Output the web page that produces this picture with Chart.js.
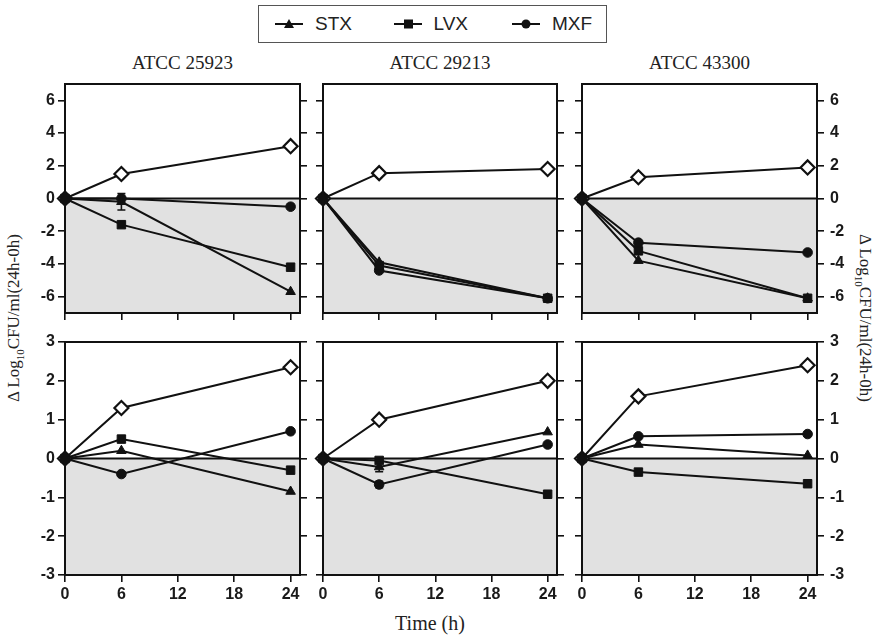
<!DOCTYPE html>
<html>
<head>
<meta charset="utf-8">
<script src="https://cdn.jsdelivr.net/npm/chart.js@4.4.1/dist/chart.umd.min.js"></script>
<style>
  body { margin: 0; background: #fff; }
  #page { position: relative; width: 877px; height: 637px; overflow: hidden; background: #fff; }
  #page canvas { position: absolute; }
  .title { position: absolute; font-family: "Liberation Serif", "Times New Roman", serif; color: #222; white-space: nowrap; transform: translate(-50%, -50%); }
  .ylab { position: absolute; font-family: "Liberation Serif", "Times New Roman", serif; font-size: 17px; color: #222; white-space: nowrap; }
  #legend { position: absolute; left: 258px; top: 5px; width: 347px; height: 36px; border: 1.5px solid #555; }
  .item { position: absolute; top: 0; height: 36px; display: flex; align-items: center; font-family: "Liberation Sans", Arial, sans-serif; font-size: 19px; color: #222; }
  .item svg { margin-right: 11px; }
</style>
</head>
<body>
<div id="page">
  <div id="legend"></div>
  <div class="title" style="left:430px; top:623px; font-size:20px;">Time (h)</div>
  <div class="ylab" style="left:15px; top:318px; transform: translate(-50%, -50%) rotate(-90deg);">Δ Log<sub style="font-size:11px">10</sub>CFU/ml(24h-0h)</div>
  <div class="ylab" style="left:864px; top:318px; transform: translate(-50%, -50%) rotate(90deg);">Δ Log<sub style="font-size:11px">10</sub>CFU/ml(24h-0h)</div>
</div>
<script>
// sampling times and axis ticks
const hours = [0, 6, 24];
const xTicks = [0, 6, 12, 18, 24];
const topTicks = [-6, -4, -2, 0, 2, 4, 6];
const bottomTicks = [-3, -2, -1, 0, 1, 2, 3];
const strains = ['ATCC 25923', 'ATCC 29213', 'ATCC 43300'];
const drugs = ['STX', 'LVX', 'MXF'];

// upper row, one array per strain
const stxTop = [[0, -0.2, -5.7], [0, -3.9, -6.1], [0, -3.8, -6.1]];
const lvxTop = [[0, -1.6, -4.2], [0, -4.1, -6.1], [0, -3.2, -6.1]];
const mxfTop = [[0, 0.0, -0.5], [0, -4.4, -6.1], [0, -2.7, -3.3]];
const ctrlTop = [[0, 1.5, 3.2], [0, 1.55, 1.8], [0, 1.3, 1.9]];

// lower row
const stxBottom = [[0, 0.2, -0.85], [0, -0.22, 0.68], [0, 0.36, 0.08]];
const lvxBottom = [[0, 0.5, -0.3], [0, -0.05, -0.92], [0, -0.35, -0.65]];
const mxfBottom = [[0, -0.4, 0.7], [0, -0.67, 0.36], [0, 0.57, 0.63]];
const ctrlBottom = [[0, 1.3, 2.35], [0, 1.0, 2.0], [0, 1.6, 2.4]];

// the few visible error bars (half length, log units)
const errorBars = [
    { row: 0, col: 0, drug: 'STX', hour: 6, sd: 0.5 },
    { row: 1, col: 1, drug: 'STX', hour: 6, sd: 0.12 },
    { row: 1, col: 1, drug: 'MXF', hour: 6, sd: 0.08 }
];

// plot frames in page pixels
const colLeft = [65, 323, 582];
const colRight = [300, 557, 817];
const rowTop = [84, 342];
const rowBottom = [313, 575];

const page = document.getElementById('page');
const ink = '#111';
const tickFont = { family: '"Liberation Sans", Arial, sans-serif', weight: 'bold', size: 16 };
const markers = { STX: 'triangle', LVX: 'rect', MXF: 'circle' };
const markerSize = { STX: 5.5, LVX: 6, MXF: 4.8 };

// legend
const legend = document.getElementById('legend');
const svgShape = {
    STX: '<polygon points="15,4 20,13 10,13" fill="#111"/>',
    LVX: '<rect x="11" y="4.5" width="9" height="9" fill="#111"/>',
    MXF: '<circle cx="15" cy="9" r="4.5" fill="#111"/>'
};
drugs.forEach(function(d, i) {
    const item = document.createElement('div');
    item.className = 'item';
    item.style.left = (15 + i * 118.5) + 'px';
    item.innerHTML = '<svg width="30" height="18"><line x1="1" y1="9" x2="29" y2="9" stroke="#111" stroke-width="2"/>' +
        svgShape[d] + '</svg>' + d;
    legend.appendChild(item);
});

// strain titles
strains.forEach(function(s, c) {
    const t = document.createElement('div');
    t.className = 'title';
    t.style.left = ((colLeft[c] + colRight[c]) / 2) + 'px';
    t.style.top = '63px';
    t.style.fontSize = '19px';
    t.textContent = s;
    page.appendChild(t);
});

// grey band under zero, zero line, frame and error bars
const panelDecor = {
    id: 'panelDecor',
    beforeDatasetsDraw(chart) {
        const { ctx, chartArea: a, scales } = chart;
        const y0 = scales.y.getPixelForValue(0);
        ctx.save();
        ctx.fillStyle = '#e1e1e1';
        ctx.fillRect(a.left, y0, a.right - a.left, a.bottom - y0);
        ctx.strokeStyle = ink;
        ctx.lineWidth = 2;
        ctx.beginPath();
        ctx.moveTo(a.left, y0);
        ctx.lineTo(a.right, y0);
        ctx.stroke();
        ctx.restore();
    },
    afterDatasetsDraw(chart) {
        const { ctx, chartArea: a, scales } = chart;
        const p = chart.options.plugins.panelDecor;
        ctx.save();
        ctx.strokeStyle = ink;
        ctx.lineWidth = 1.6;
        errorBars.filter(e => e.row === p.row && e.col === p.col).forEach(function(e) {
            const ds = chart.data.datasets.find(d => d.label === e.drug);
            const v = ds.data[hours.indexOf(e.hour)].y;
            const x = scales.x.getPixelForValue(e.hour);
            const yHi = scales.y.getPixelForValue(v + e.sd);
            const yLo = scales.y.getPixelForValue(v - e.sd);
            ctx.beginPath();
            ctx.moveTo(x, yHi); ctx.lineTo(x, yLo);
            ctx.moveTo(x - 4, yHi); ctx.lineTo(x + 4, yHi);
            ctx.moveTo(x - 4, yLo); ctx.lineTo(x + 4, yLo);
            ctx.stroke();
        });
        ctx.lineWidth = 2;
        ctx.strokeRect(a.left, a.top, a.right - a.left, a.bottom - a.top);
        ctx.restore();
    }
};

function points(values) {
    return hours.map((h, i) => ({ x: h, y: values[i] }));
}

function makePanel(row, col) {
    const padL = 45, padR = 45, padT = 20, padB = 40;
    const L = colLeft[col], R = colRight[col], T = rowTop[row], B = rowBottom[row];
    const w = R - L + padL + padR, h = B - T + padT + padB;
    const canvas = document.createElement('canvas');
    canvas.width = w; canvas.height = h;
    canvas.style.left = (L - padL) + 'px';
    canvas.style.top = (T - padT) + 'px';
    canvas.style.width = w + 'px';
    canvas.style.height = h + 'px';
    page.appendChild(canvas);

    const series = row === 0
        ? { STX: stxTop[col], LVX: lvxTop[col], MXF: mxfTop[col], ctrl: ctrlTop[col] }
        : { STX: stxBottom[col], LVX: lvxBottom[col], MXF: mxfBottom[col], ctrl: ctrlBottom[col] };
    const yTicks = row === 0 ? topTicks : bottomTicks;
    const yMin = row === 0 ? -7 : -3, yMax = row === 0 ? 7 : 3;

    const datasets = drugs.map(d => ({
        label: d,
        data: points(series[d]),
        borderColor: ink,
        borderWidth: 2,
        pointStyle: markers[d],
        pointRadius: markerSize[d],
        pointBackgroundColor: ink,
        pointBorderColor: ink,
        pointBorderWidth: 1,
        clip: false
    }));
    // growth control, open diamonds, drawn behind
    datasets.push({
        label: 'Control',
        data: points(series.ctrl),
        borderColor: ink,
        borderWidth: 2,
        pointStyle: 'rectRot',
        pointRadius: 7,
        pointBackgroundColor: '#fff',
        pointBorderColor: ink,
        pointBorderWidth: 2.2,
        clip: false
    });

    const gridOpts = { drawOnChartArea: false, drawTicks: true, tickLength: 7, color: ink, lineWidth: 1.6 };

    new Chart(canvas.getContext('2d'), {
        type: 'line',
        data: { datasets: datasets },
        options: {
            responsive: false,
            animation: false,
            layout: { padding: { top: padT, left: 0, right: 0, bottom: 0 } },
            plugins: {
                legend: { display: false },
                tooltip: { enabled: false },
                panelDecor: { row: row, col: col }
            },
            scales: {
                x: {
                    type: 'linear', min: 0, max: 25,
                    afterBuildTicks: s => { s.ticks = xTicks.map(v => ({ value: v })); },
                    afterFit: s => { s.height = padB; },
                    grid: gridOpts,
                    border: { display: false },
                    ticks: { display: row === 1, font: tickFont, color: '#1a1a1a', padding: 3, maxRotation: 0 }
                },
                y: {
                    position: 'left', min: yMin, max: yMax,
                    afterBuildTicks: s => { s.ticks = yTicks.map(v => ({ value: v })); },
                    afterFit: s => { s.width = padL; },
                    grid: gridOpts,
                    border: { display: false },
                    ticks: { display: col === 0, font: tickFont, color: '#1a1a1a', padding: 3 }
                },
                y2: {
                    position: 'right', min: yMin, max: yMax,
                    afterBuildTicks: s => { s.ticks = yTicks.map(v => ({ value: v })); },
                    afterFit: s => { s.width = padR; },
                    grid: gridOpts,
                    border: { display: false },
                    ticks: { display: col === 2, font: tickFont, color: '#1a1a1a', padding: 6 }
                }
            }
        },
        plugins: [panelDecor]
    });
}

for (let r = 0; r < 2; r++) {
    for (let c = 0; c < 3; c++) {
        makePanel(r, c);
    }
}
</script>
</body>
</html>
